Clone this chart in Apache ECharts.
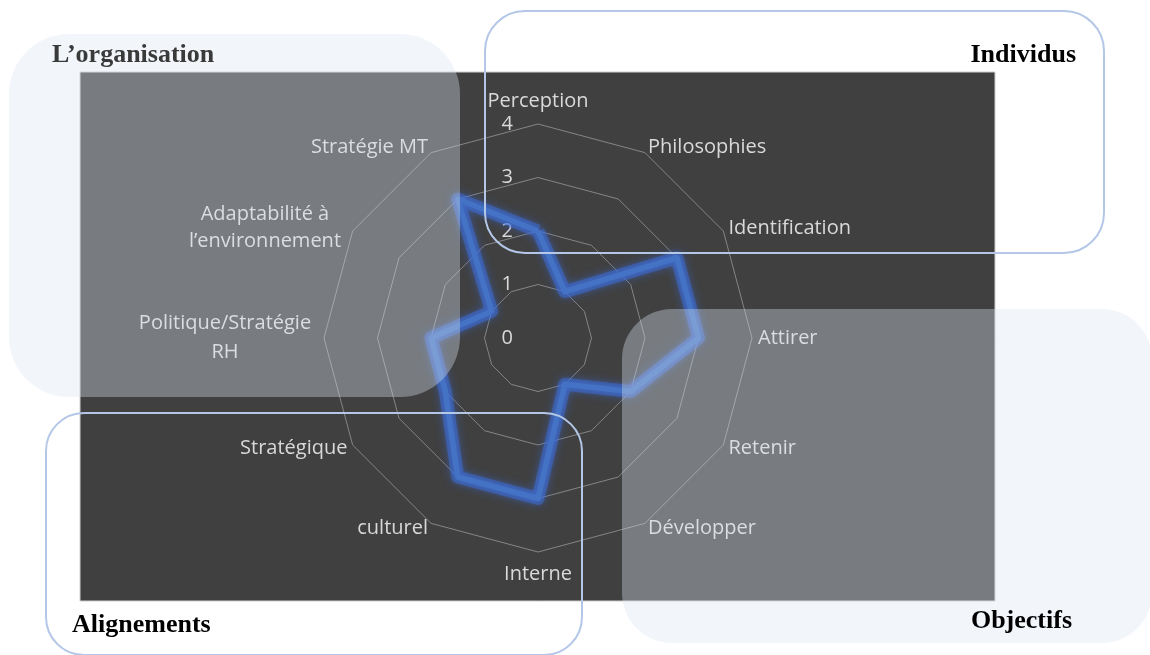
<!DOCTYPE html>
<html>
<head>
<meta charset="utf-8">
<script src="https://cdn.jsdelivr.net/npm/echarts@6/dist/echarts.min.js"></script>
<style>
  html, body { margin: 0; padding: 0; background: #fff; }
  #chart { width: 1150px; height: 655px; }
</style>
</head>
<body>
<div id="chart"></div>
<script>
// axes, clockwise from the top
const indicators = [
  "Perception", "Philosophies", "Identification", "Attirer", "Retenir", "Développer",
  "Interne", "culturel", "Stratégique", "Politique/Stratégie\nRH",
  "Adaptabilité à\nl’environnement", "Stratégie MT"
];
const scores = [2, 1, 3, 3, 2, 1, 3, 3, 2, 2, 1, 3];
const scaleTicks = [0, 1, 2, 3, 4];
const groupTitles = ["L’organisation", "Individus", "Alignements", "Objectifs"];

// echarts radar goes counter-clockwise, so flip everything after the first axis
const order = [0].concat(indicators.map((_, i) => i).slice(1).reverse());
const radarNames = order.map(i => indicators[i]);
const radarValues = order.map(i => scores[i]);

const labelColor = "#d9d9d9";
const overlayFill = "rgba(220,231,244,0.36)";
const boxStroke = "#b4c7e7";
const titleFont = { fontFamily: "Liberation Serif", fontWeight: "bold", fontSize: 26 };

const chart = echarts.init(document.getElementById("chart"));

chart.setOption({
  backgroundColor: "#ffffff",
  animation: false,
  radar: {
    center: [538, 338],
    radius: 214,
    startAngle: 90,
    min: 0,
    max: scaleTicks[scaleTicks.length - 1],
    splitNumber: scaleTicks.length - 1,
    shape: "polygon",
    nameGap: 6,
    indicator: radarNames.map(n => ({ name: n, min: 0, max: scaleTicks[scaleTicks.length - 1] })),
    axisLine: { show: false },
    axisTick: { show: false },
    splitArea: { show: false },
    splitLine: { lineStyle: { color: "#858585", width: 1 } },
    axisName: {
      color: labelColor,
      fontFamily: "Open Sans",
      fontSize: 20,
      formatter: function (name) {
        if (name.indexOf("Politique") === 0) {
          return name.split("\n").map(s => "{p|" + s + "}").join("\n");
        }
        if (name.indexOf("Adaptabilité") === 0) {
          return name.split("\n").map(s => "{a|" + s + "}").join("\n");
        }
        if (name === "Perception") return "{t|" + name + "}";
        if (name === "Interne") return "{b|" + name + "}";
        return name;
      },
      rich: {
        p: { width: 186, align: "center", lineHeight: 29, fontSize: 20, fontFamily: "Open Sans", color: labelColor },
        a: { width: 165, align: "center", lineHeight: 27, fontSize: 20, fontFamily: "Open Sans", color: labelColor },
        t: { padding: [0, 0, 7, 0], fontSize: 20, fontFamily: "Open Sans", color: labelColor },
        b: { padding: [6, 0, 0, 0], fontSize: 20, fontFamily: "Open Sans", color: labelColor }
      }
    }
  },
  polar: { center: [538, 338], radius: 214 },
  angleAxis: { show: false, startAngle: 90, min: 0, max: 360 },
  radiusAxis: {
    min: scaleTicks[0],
    max: scaleTicks[scaleTicks.length - 1],
    interval: 1,
    axisLine: { show: false },
    axisTick: { show: false },
    splitLine: { show: false },
    axisLabel: {
      showMinLabel: true,
      showMaxLabel: true,
      margin: 25,
      color: labelColor,
      fontFamily: "Open Sans",
      fontSize: 20
    }
  },
  series: [
    {
      // soft glow under the main line
      type: "radar",
      symbol: "none",
      silent: true,
      z: 1,
      lineStyle: {
        color: "rgba(60,110,225,0.45)",
        width: 13,
        shadowBlur: 10,
        shadowColor: "rgba(60,110,225,0.9)"
      },
      data: [{ value: radarValues, name: "glow" }]
    },
    {
      type: "radar",
      symbol: "none",
      z: 2,
      lineStyle: {
        color: "#4472c4",
        width: 5.5,
        shadowBlur: 6,
        shadowColor: "rgba(68,114,220,0.8)"
      },
      data: [{ value: radarValues, name: "Score" }]
    }
  ],
  graphic: [
    {
      type: "rect", z: -10, silent: true,
      shape: { x: 80, y: 72, width: 915, height: 529 },
      style: { fill: "#404040", stroke: "#cfcfcf", lineWidth: 1 }
    },
    {
      type: "rect", z: 100, silent: true,
      shape: { x: 9, y: 34, width: 451, height: 363, r: 60 },
      style: { fill: overlayFill }
    },
    {
      type: "rect", z: 100, silent: true,
      shape: { x: 622, y: 309, width: 530, height: 334, r: 50 },
      style: { fill: overlayFill }
    },
    {
      type: "rect", z: 101, silent: true,
      shape: { x: 485, y: 11, width: 619, height: 242, r: 40 },
      style: { fill: null, stroke: boxStroke, lineWidth: 2 }
    },
    {
      type: "rect", z: 101, silent: true,
      shape: { x: 46, y: 413, width: 536, height: 242, r: 38 },
      style: { fill: null, stroke: boxStroke, lineWidth: 2 }
    },
    {
      type: "text", z: 110, left: 52, top: 42,
      style: Object.assign({ text: groupTitles[0], fill: "#3a3a3a" }, titleFont)
    },
    {
      type: "text", z: 110, right: 74, top: 42,
      style: Object.assign({ text: groupTitles[1], fill: "#000000" }, titleFont)
    },
    {
      type: "text", z: 110, left: 72, top: 612,
      style: Object.assign({ text: groupTitles[2], fill: "#000000" }, titleFont)
    },
    {
      type: "text", z: 110, right: 78, top: 608,
      style: Object.assign({ text: groupTitles[3], fill: "#000000" }, titleFont)
    }
  ]
});
</script>
</body>
</html>
